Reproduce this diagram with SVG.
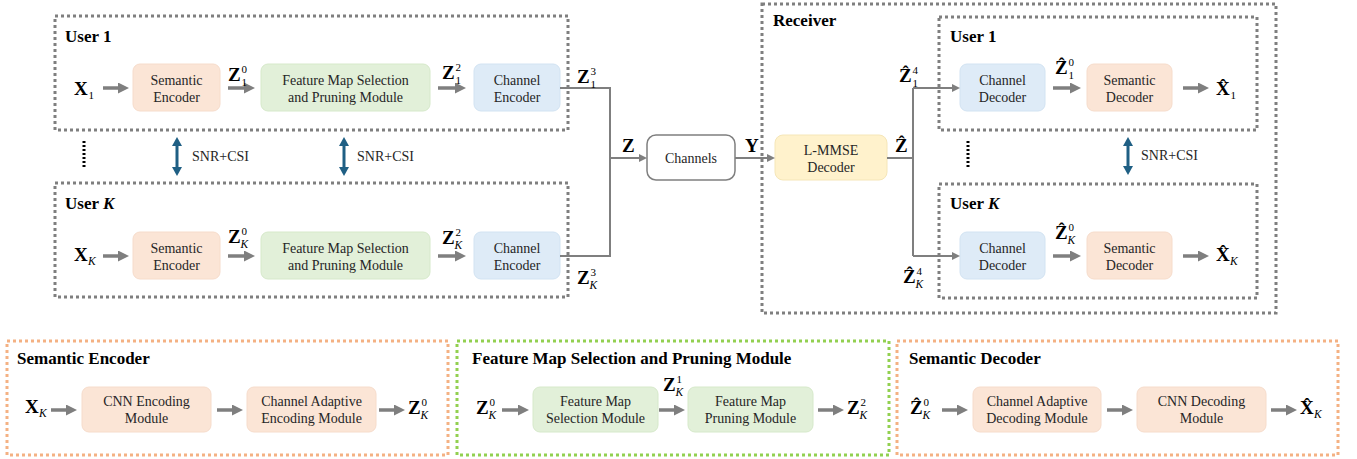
<svg xmlns="http://www.w3.org/2000/svg" width="1357" height="459" viewBox="0 0 1357 459">
  <style>
    .frame { fill: none; stroke: #7f7f7f; stroke-width: 3; stroke-dasharray: 3 3; }
    .frame-or { fill: none; stroke: #f4b183; stroke-width: 3; stroke-dasharray: 3 3; }
    .frame-gr { fill: none; stroke: #92d050; stroke-width: 3; stroke-dasharray: 3 3; }
    .sem { fill: #fbe5d6; stroke: #f6dccb; stroke-width: 1; }
    .fm { fill: #e2f0d9; stroke: #d6e9ca; stroke-width: 1; }
    .ch { fill: #deebf7; stroke: #d2e3f2; stroke-width: 1; }
    .lm { fill: #fff2cc; stroke: #f5e6b8; stroke-width: 1; }
    .chn { fill: #ffffff; stroke: #7f7f7f; stroke-width: 1.5; }
    text { font-family: 'Liberation Serif', 'DejaVu Serif', 'Times New Roman', serif; }
    .t { font-size: 14px; fill: #262626; text-anchor: middle; }
    .snrt { font-size: 14px; fill: #262626; }
    .ttl { font-size: 17px; font-weight: bold; fill: #000; }
    .mv { font-size: 19px; font-weight: bold; fill: #000; }
    .ms { font-size: 11px; font-weight: normal; }
    .mk { font-size: 11.5px; font-weight: normal; font-style: italic; }
    .arr { stroke: #7f7f7f; stroke-width: 3.5; fill: none; marker-end: url(#ah); }
    .wire { stroke: #7f7f7f; stroke-width: 2; fill: none; }
    .wa { stroke: #7f7f7f; stroke-width: 2; fill: none; marker-end: url(#sh); }
    .snr { stroke: #1f5f84; stroke-width: 3; fill: none; marker-start: url(#bh); marker-end: url(#bh); }
    .ell { stroke: #000; stroke-width: 3; stroke-dasharray: 2 2; fill: none; }
  </style>
  <defs>
    <marker id="ah" markerUnits="userSpaceOnUse" markerWidth="11" markerHeight="11" refX="5" refY="5.5" orient="auto">
      <path d="M0,0 L11,5.5 L0,11 z" fill="#7f7f7f"/>
    </marker>
    <marker id="sh" markerUnits="userSpaceOnUse" markerWidth="8" markerHeight="8" refX="3" refY="4" orient="auto">
      <path d="M0,0 L8,4 L0,8 z" fill="#7f7f7f"/>
    </marker>
    <marker id="bh" markerUnits="userSpaceOnUse" markerWidth="10" markerHeight="10" refX="3" refY="5" orient="auto-start-reverse">
      <path d="M0,0 L9,5 L0,10 z" fill="#1f5f84"/>
    </marker>
  </defs>

  <!-- transmitter-side user frames -->
  <g id="tx-user1">
    <rect class="frame" x="55" y="16" width="513" height="114"/>
    <text class="ttl" x="65" y="42">User 1</text>
  </g>
  <g id="tx-userK">
    <rect class="frame" x="55" y="183" width="513" height="114"/>
    <text class="ttl" x="65" y="209">User <tspan font-style="italic">K</tspan></text>
  </g>

  <!-- receiver frames -->
  <g id="receiver">
    <rect class="frame" x="762" y="4" width="514" height="309"/>
    <text class="ttl" x="773" y="26">Receiver</text>
  </g>
  <g id="rx-user1">
    <rect class="frame" x="939" y="17" width="318" height="113"/>
    <text class="ttl" x="950" y="42">User 1</text>
  </g>
  <g id="rx-userK">
    <rect class="frame" x="939" y="184" width="318" height="114"/>
    <text class="ttl" x="950" y="209">User <tspan font-style="italic">K</tspan></text>
  </g>

  <!-- transmitter user 1 chain -->
  <g id="sem-enc-1">
    <rect class="sem" x="133" y="64" width="87" height="47" rx="7"/>
    <text class="t" x="176.5" y="85">Semantic</text>
    <text class="t" x="176.5" y="101.5">Encoder</text>
  </g>
  <g id="fmsp-1">
    <rect class="fm" x="261" y="64" width="169" height="47" rx="7"/>
    <text class="t" x="345.5" y="85">Feature Map Selection</text>
    <text class="t" x="345.5" y="101.5">and Pruning Module</text>
  </g>
  <g id="ch-enc-1">
    <rect class="ch" x="474" y="64" width="86" height="47" rx="7"/>
    <text class="t" x="517" y="85">Channel</text>
    <text class="t" x="517" y="101.5">Encoder</text>
  </g>

  <!-- transmitter user K chain -->
  <g id="sem-enc-K">
    <rect class="sem" x="133" y="232" width="87" height="47" rx="7"/>
    <text class="t" x="176.5" y="253">Semantic</text>
    <text class="t" x="176.5" y="269.5">Encoder</text>
  </g>
  <g id="fmsp-K">
    <rect class="fm" x="261" y="232" width="169" height="47" rx="7"/>
    <text class="t" x="345.5" y="253">Feature Map Selection</text>
    <text class="t" x="345.5" y="269.5">and Pruning Module</text>
  </g>
  <g id="ch-enc-K">
    <rect class="ch" x="474" y="232" width="86" height="47" rx="7"/>
    <text class="t" x="517" y="253">Channel</text>
    <text class="t" x="517" y="269.5">Encoder</text>
  </g>

  <!-- shared channel and joint detector -->
  <g id="channels">
    <rect class="chn" x="647" y="135" width="88" height="45" rx="9"/>
    <text class="t" x="691" y="162.5">Channels</text>
  </g>
  <g id="lmmse">
    <rect class="lm" x="775" y="135" width="112" height="45" rx="8"/>
    <text class="t" x="831" y="155">L-MMSE</text>
    <text class="t" x="831" y="172">Decoder</text>
  </g>

  <!-- receiver user 1 chain -->
  <g id="ch-dec-1">
    <rect class="ch" x="960" y="64" width="85" height="47" rx="7"/>
    <text class="t" x="1002.5" y="85">Channel</text>
    <text class="t" x="1002.5" y="101.5">Decoder</text>
  </g>
  <g id="sem-dec-1">
    <rect class="sem" x="1087" y="64" width="85" height="47" rx="7"/>
    <text class="t" x="1129.5" y="85">Semantic</text>
    <text class="t" x="1129.5" y="101.5">Decoder</text>
  </g>

  <!-- receiver user K chain -->
  <g id="ch-dec-K">
    <rect class="ch" x="960" y="232" width="85" height="47" rx="7"/>
    <text class="t" x="1002.5" y="253">Channel</text>
    <text class="t" x="1002.5" y="269.5">Decoder</text>
  </g>
  <g id="sem-dec-K">
    <rect class="sem" x="1087" y="232" width="85" height="47" rx="7"/>
    <text class="t" x="1129.5" y="253">Semantic</text>
    <text class="t" x="1129.5" y="269.5">Decoder</text>
  </g>

  <!-- detail: semantic encoder -->
  <g id="detail-sem-enc">
    <rect class="frame-or" x="7" y="341" width="441" height="114"/>
    <text class="ttl" x="17" y="364">Semantic Encoder</text>
  </g>
  <g id="cnn-enc">
    <rect class="sem" x="82" y="387" width="129" height="45" rx="7"/>
    <text class="t" x="146.5" y="405.5">CNN Encoding</text>
    <text class="t" x="146.5" y="422.5">Module</text>
  </g>
  <g id="ca-enc">
    <rect class="sem" x="247" y="387" width="129" height="45" rx="7"/>
    <text class="t" x="311.5" y="405.5">Channel Adaptive</text>
    <text class="t" x="311.5" y="422.5">Encoding Module</text>
  </g>

  <!-- detail: feature map selection and pruning -->
  <g id="detail-fmsp">
    <rect class="frame-gr" x="457" y="341" width="432" height="114"/>
    <text class="ttl" x="472" y="364">Feature Map Selection and Pruning Module</text>
  </g>
  <g id="fm-sel">
    <rect class="fm" x="533" y="387" width="125" height="45" rx="7"/>
    <text class="t" x="595.5" y="405.5">Feature Map</text>
    <text class="t" x="595.5" y="422.5">Selection Module</text>
  </g>
  <g id="fm-prune">
    <rect class="fm" x="688" y="387" width="125" height="45" rx="7"/>
    <text class="t" x="750.5" y="405.5">Feature Map</text>
    <text class="t" x="750.5" y="422.5">Pruning Module</text>
  </g>

  <!-- detail: semantic decoder -->
  <g id="detail-sem-dec">
    <rect class="frame-or" x="897" y="341" width="441" height="114"/>
    <text class="ttl" x="909" y="364">Semantic Decoder</text>
  </g>
  <g id="ca-dec">
    <rect class="sem" x="973" y="387" width="128" height="45" rx="7"/>
    <text class="t" x="1037" y="405.5">Channel Adaptive</text>
    <text class="t" x="1037" y="422.5">Decoding Module</text>
  </g>
  <g id="cnn-dec">
    <rect class="sem" x="1137" y="387" width="129" height="45" rx="7"/>
    <text class="t" x="1201.5" y="405.5">CNN Decoding</text>
    <text class="t" x="1201.5" y="422.5">Module</text>
  </g>

  <!-- connectors -->
  <g id="connectors">
    <!-- transmitter user 1 -->
    <line class="arr" x1="103" y1="88" x2="123" y2="88"/>
    <line class="arr" x1="228" y1="88" x2="249" y2="88"/>
    <line class="arr" x1="438" y1="88" x2="460" y2="88"/>
    <!-- transmitter user K -->
    <line class="arr" x1="103" y1="256" x2="123" y2="256"/>
    <line class="arr" x1="228" y1="256" x2="249" y2="256"/>
    <line class="arr" x1="438" y1="256" x2="460" y2="256"/>
    <!-- superposition into the channel -->
    <path class="wire" d="M560,88 H610 V256 H560"/>
    <line class="wa" x1="610" y1="158" x2="642" y2="158"/>
    <line class="wa" x1="735" y1="158" x2="770" y2="158"/>
    <!-- detector output split -->
    <path class="wire" d="M887,158 H913 M913,88 V256"/>
    <line class="wa" x1="913" y1="88" x2="955" y2="88"/>
    <line class="wa" x1="913" y1="256" x2="955" y2="256"/>
    <!-- receiver user 1 -->
    <line class="arr" x1="1053" y1="88" x2="1075" y2="88"/>
    <line class="arr" x1="1183" y1="88" x2="1203" y2="88"/>
    <!-- receiver user K -->
    <line class="arr" x1="1053" y1="256" x2="1075" y2="256"/>
    <line class="arr" x1="1183" y1="256" x2="1203" y2="256"/>
    <!-- detail rows -->
    <line class="arr" x1="51" y1="410" x2="71" y2="410"/>
    <line class="arr" x1="217" y1="410" x2="237" y2="410"/>
    <line class="arr" x1="379" y1="410" x2="399" y2="410"/>
    <line class="arr" x1="502" y1="410" x2="523" y2="410"/>
    <line class="arr" x1="659" y1="410" x2="679" y2="410"/>
    <line class="arr" x1="818" y1="410" x2="838" y2="410"/>
    <line class="arr" x1="942" y1="410" x2="962" y2="410"/>
    <line class="arr" x1="1107" y1="410" x2="1127" y2="410"/>
    <line class="arr" x1="1271" y1="410" x2="1291" y2="410"/>
    <!-- side information links -->
    <line class="snr" x1="177" y1="143" x2="177" y2="170"/>
    <line class="snr" x1="344" y1="143" x2="344" y2="170"/>
    <line class="snr" x1="1128" y1="143" x2="1128" y2="169"/>
    <!-- ellipses between users -->
    <line class="ell" x1="84" y1="141" x2="84" y2="169"/>
    <line class="ell" x1="968" y1="141" x2="968" y2="169"/>
  </g>

  <!-- side information labels -->
  <g id="snr-labels">
    <text class="snrt" x="192" y="161">SNR+CSI</text>
    <text class="snrt" x="357" y="161">SNR+CSI</text>
    <text class="snrt" x="1141" y="160">SNR+CSI</text>
  </g>

  <!-- signal symbols: base letter with stacked super/subscripts -->
  <g id="symbols">
    <text class="mv" x="74" y="95">X<tspan class="ms" x="88.5" y="99">1</tspan></text>
    <text class="mv" x="74" y="261">X<tspan class="mk" x="88" y="265">K</tspan></text>

    <text class="mv" x="228" y="81">Z<tspan class="ms" x="241.5" y="73">0</tspan><tspan class="ms" x="241.5" y="86">1</tspan></text>
    <text class="mv" x="228" y="243">Z<tspan class="ms" x="241.5" y="235">0</tspan><tspan class="mk" x="240.5" y="248">K</tspan></text>

    <text class="mv" x="442" y="79">Z<tspan class="ms" x="455.5" y="71">2</tspan><tspan class="ms" x="455.5" y="84">1</tspan></text>
    <text class="mv" x="442" y="244">Z<tspan class="ms" x="455.5" y="236">2</tspan><tspan class="mk" x="454.5" y="249">K</tspan></text>

    <text class="mv" x="577" y="83">Z<tspan class="ms" x="590.5" y="75">3</tspan><tspan class="ms" x="590.5" y="88">1</tspan></text>
    <text class="mv" x="577" y="284">Z<tspan class="ms" x="590.5" y="276">3</tspan><tspan class="mk" x="589.5" y="289">K</tspan></text>

    <text class="mv" x="622" y="152">Z</text>
    <text class="mv" x="745" y="152">Y</text>
    <text class="mv" x="895" y="152">Z&#x302;</text>

    <text class="mv" x="899" y="82">Z&#x302;<tspan class="ms" x="912.5" y="74">4</tspan><tspan class="ms" x="912.5" y="87">1</tspan></text>
    <text class="mv" x="1055" y="74">Z&#x302;<tspan class="ms" x="1068.5" y="66">0</tspan><tspan class="ms" x="1068.5" y="79">1</tspan></text>
    <text class="mv" x="1216" y="95">X&#x302;<tspan class="ms" x="1230.5" y="99">1</tspan></text>

    <text class="mv" x="903" y="283">Z&#x302;<tspan class="ms" x="916.5" y="275">4</tspan><tspan class="mk" x="915.5" y="288">K</tspan></text>
    <text class="mv" x="1055" y="239">Z&#x302;<tspan class="ms" x="1068.5" y="231">0</tspan><tspan class="mk" x="1067.5" y="244">K</tspan></text>
    <text class="mv" x="1216" y="261">X&#x302;<tspan class="mk" x="1230" y="265">K</tspan></text>

    <text class="mv" x="25" y="413">X<tspan class="mk" x="39" y="417">K</tspan></text>
    <text class="mv" x="408" y="414">Z<tspan class="ms" x="421.5" y="406">0</tspan><tspan class="mk" x="420.5" y="419">K</tspan></text>
    <text class="mv" x="476" y="414">Z<tspan class="ms" x="489.5" y="406">0</tspan><tspan class="mk" x="488.5" y="419">K</tspan></text>
    <text class="mv" x="663" y="391">Z<tspan class="ms" x="676.5" y="383">1</tspan><tspan class="mk" x="675.5" y="396">K</tspan></text>
    <text class="mv" x="847" y="414">Z<tspan class="ms" x="860.5" y="406">2</tspan><tspan class="mk" x="859.5" y="419">K</tspan></text>
    <text class="mv" x="910" y="414">Z&#x302;<tspan class="ms" x="923.5" y="406">0</tspan><tspan class="mk" x="922.5" y="419">K</tspan></text>
    <text class="mv" x="1300" y="414">X&#x302;<tspan class="mk" x="1314" y="418">K</tspan></text>
  </g>
</svg>
